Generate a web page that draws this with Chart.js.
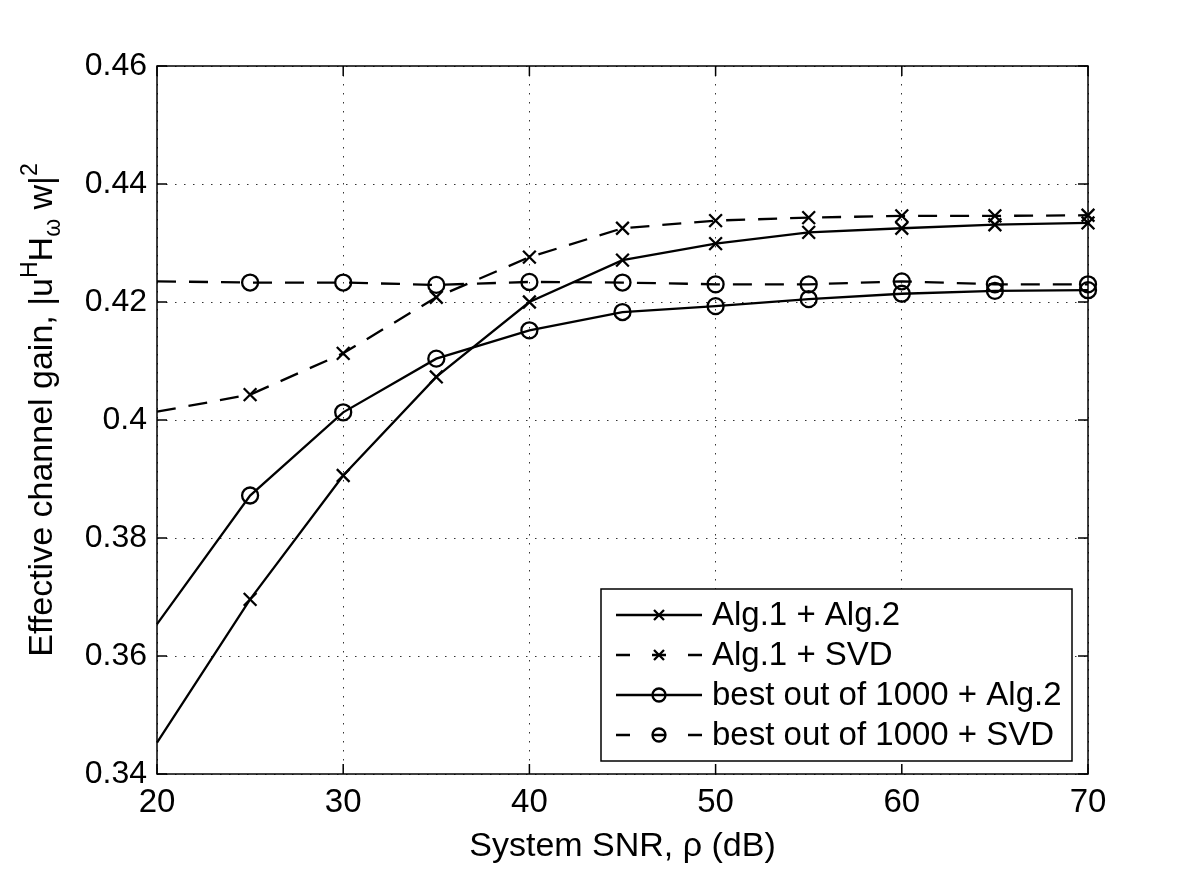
<!DOCTYPE html>
<html lang="en">
<head>
<meta charset="UTF-8">
<title>Effective channel gain vs system SNR</title>
<script src="https://cdn.jsdelivr.net/npm/chart.js"></script>
<style>
  html, body { margin: 0; padding: 0; background: #fff; }
  #wrap { width: 1200px; height: 873px; }
</style>
</head>
<body>
<div id="wrap"><canvas id="gainChart" width="1200" height="873"></canvas></div>
<script>
// values (SNR in dB, gain |u^H H w|^2)
const snrDb = [20, 25, 30, 35, 40, 45, 50, 55, 60, 65, 70];
const alg1Alg2 = [0.3453, 0.3696, 0.3906, 0.4073, 0.4200, 0.4271, 0.4299, 0.4318, 0.4325, 0.4331, 0.4334];
const alg1Svd = [0.4014, 0.4043, 0.4113, 0.4208, 0.4276, 0.4325, 0.4338, 0.4343, 0.4346, 0.4346, 0.4347];
const bestAlg2 = [0.3654, 0.3872, 0.4013, 0.4104, 0.4152, 0.4183, 0.4193, 0.4205, 0.4214, 0.4219, 0.4220];
const bestSvd = [0.4235, 0.4233, 0.4233, 0.4229, 0.4234, 0.4233, 0.4230, 0.4230, 0.4235, 0.4230, 0.4230];
const seriesNames = ['Alg.1 + Alg.2', 'Alg.1 + SVD', 'best out of 1000 + Alg.2', 'best out of 1000 + SVD'];
const xTicks = [20, 30, 40, 50, 60, 70];
const yTicks = [0.34, 0.36, 0.38, 0.40, 0.42, 0.44, 0.46];

const FONT = '"Liberation Sans", Arial, Helvetica, sans-serif';
const DASH = [19, 13];

function toPoints(ys) {
    return snrDb.map((x, i) => ({ x: x, y: ys[i] }));
}

function makeSet(label, ys, marker, dashed) {
    return {
        label: label,
        data: toPoints(ys),
        borderColor: '#000',
        borderWidth: 2.3,
        borderDash: dashed ? DASH : [],
        backgroundColor: 'transparent',
        pointStyle: marker,
        pointRadius: ctx => ctx.dataIndex === 0 ? 0 : (marker === 'circle' ? 8 : 9),
        pointBorderWidth: 2.3,
        pointBorderColor: '#000',
        pointBackgroundColor: 'transparent',
        fill: false,
        tension: 0,
        clip: false,
        myMarker: marker,
        myDashed: dashed
    };
}

// box with inward ticks, like matlab axes
const framePlugin = {
    id: 'frame',
    afterDraw(chart) {
        const { ctx, chartArea: a, scales } = chart;
        ctx.save();
        ctx.strokeStyle = '#000';
        ctx.lineWidth = 1.5;
        ctx.strokeRect(a.left, a.top, a.right - a.left, a.bottom - a.top);
        const len = 10;
        ctx.beginPath();
        xTicks.forEach(v => {
            const px = scales.x.getPixelForValue(v);
            ctx.moveTo(px, a.bottom); ctx.lineTo(px, a.bottom - len);
            ctx.moveTo(px, a.top); ctx.lineTo(px, a.top + len);
        });
        yTicks.forEach(v => {
            const py = scales.y.getPixelForValue(v);
            ctx.moveTo(a.left, py); ctx.lineTo(a.left + len, py);
            ctx.moveTo(a.right, py); ctx.lineTo(a.right - len, py);
        });
        ctx.stroke();

        // x axis title
        ctx.fillStyle = '#000';
        ctx.font = '34px ' + FONT;
        ctx.textAlign = 'center';
        ctx.textBaseline = 'alphabetic';
        ctx.fillText('System SNR, \u03c1 (dB)', (a.left + a.right) / 2, 856);

        // y axis title with super/subscripts
        const parts = [
            { t: 'Effective channel gain, |u', size: 34, dy: 0 },
            { t: 'H', size: 23, dy: -15 },
            { t: 'H', size: 34, dy: 0 },
            { t: '\u03c9', size: 23, dy: 8 },
            { t: ' w|', size: 34, dy: 0 },
            { t: '2', size: 23, dy: -15 }
        ];
        let total = 0;
        parts.forEach(p => {
            ctx.font = p.size + 'px ' + FONT;
            p.w = ctx.measureText(p.t).width;
            total += p.w;
        });
        ctx.translate(52, 410);
        ctx.rotate(-Math.PI / 2);
        ctx.textAlign = 'left';
        let cx = -total / 2;
        parts.forEach(p => {
            ctx.font = p.size + 'px ' + FONT;
            ctx.fillText(p.t, cx, p.dy);
            cx += p.w;
        });
        ctx.restore();
    }
};

function drawMarker(ctx, style, x, y, r) {
    ctx.beginPath();
    if (style === 'circle') {
        ctx.arc(x, y, r, 0, Math.PI * 2);
    } else {
        ctx.moveTo(x - r, y - r); ctx.lineTo(x + r, y + r);
        ctx.moveTo(x - r, y + r); ctx.lineTo(x + r, y - r);
    }
    ctx.stroke();
}

// legend box inside the plot, bottom right
const legendPlugin = {
    id: 'boxLegend',
    afterDatasetsDraw(chart) {
        const ctx = chart.ctx;
        const box = { x: 601, y: 589, w: 471, h: 172 };
        ctx.save();
        ctx.fillStyle = '#fff';
        ctx.fillRect(box.x, box.y, box.w, box.h);
        ctx.strokeStyle = '#000';
        ctx.lineWidth = 1.5;
        ctx.strokeRect(box.x, box.y, box.w, box.h);
        ctx.font = '33px ' + FONT;
        ctx.textBaseline = 'middle';
        ctx.fillStyle = '#000';
        chart.data.datasets.forEach((ds, i) => {
            const y = box.y + 26 + i * 40;
            ctx.lineWidth = 2.3;
            ctx.setLineDash(ds.myDashed ? [14, 22] : []);
            ctx.beginPath();
            ctx.moveTo(616, y); ctx.lineTo(702, y);
            ctx.stroke();
            ctx.setLineDash([]);
            ctx.lineWidth = 2.3;
            drawMarker(ctx, ds.myMarker, 659, y, ds.myMarker === 'circle' ? 6.5 : 5);
            ctx.fillText(ds.label, 712, y + 1);
        });
        ctx.restore();
    }
};

const chart = new Chart(document.getElementById('gainChart'), {
    type: 'line',
    data: {
        datasets: [
            makeSet(seriesNames[0], alg1Alg2, 'crossRot', false),
            makeSet(seriesNames[1], alg1Svd, 'crossRot', true),
            makeSet(seriesNames[2], bestAlg2, 'circle', false),
            makeSet(seriesNames[3], bestSvd, 'circle', true)
        ]
    },
    options: {
        responsive: false,
        animation: false,
        devicePixelRatio: 1,
        layout: { padding: { top: 66, right: 112, left: 0, bottom: 0 } },
        plugins: { legend: { display: false }, tooltip: { enabled: false } },
        scales: {
            x: {
                type: 'linear',
                min: 20,
                max: 70,
                afterBuildTicks: s => { s.ticks = xTicks.map(v => ({ value: v })); },
                afterFit: s => { s.height = 99; },
                ticks: { color: '#000', font: { family: FONT, size: 33 }, padding: 9, maxRotation: 0 },
                grid: { color: '#333', lineWidth: 1, drawTicks: false },
                border: { display: false, dash: [1.5, 7.5] }
            },
            y: {
                min: 0.34,
                max: 0.46,
                afterBuildTicks: s => { s.ticks = yTicks.map(v => ({ value: v })); },
                afterFit: s => { s.width = 157; },
                ticks: {
                    color: '#000',
                    font: { family: FONT, size: 32 },
                    padding: 10,
                    callback: v => String(Math.round(v * 100) / 100)
                },
                grid: { color: '#333', lineWidth: 1, drawTicks: false },
                border: { display: false, dash: [1.5, 7.5] }
            }
        }
    },
    plugins: [legendPlugin, framePlugin]
});
</script>
</body>
</html>
